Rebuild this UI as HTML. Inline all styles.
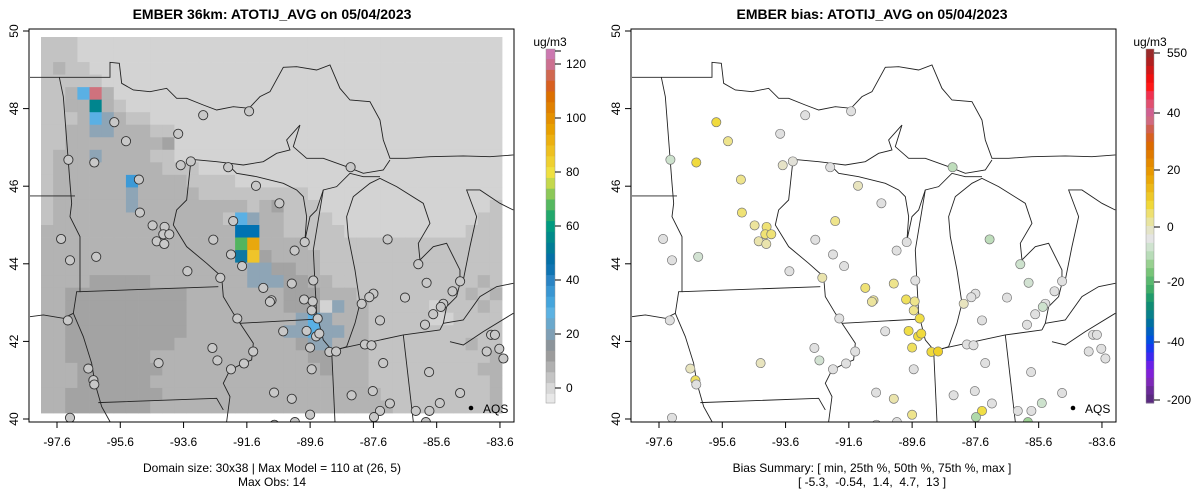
<!DOCTYPE html>
<html><head><meta charset="utf-8">
<style>
html,body{margin:0;padding:0;background:#fff;}
svg{display:block;font-family:"Liberation Sans",sans-serif;}
</style></head>
<body>
<svg id="chart" width="1200" height="502" viewBox="0 0 1200 502" xmlns="http://www.w3.org/2000/svg">
<defs>
<clipPath id="clipL"><rect x="29" y="29" width="485" height="393"/></clipPath>
<clipPath id="clipR"><rect x="631" y="29" width="485" height="393"/></clipPath>
<g id="mapLines" fill="none" stroke="#222" stroke-width="0.9">
<path vector-effect="non-scaling-stroke" d="M0,142 L88,142 L240,142 L240,97 L268,100 L275,160 L310,180 L360,185 L410,175 L440,205 L470,205 L520,225 L560,240 L610,230 L657,235 L690,200 L720,185 L760,112 L800,110 L860,120 L900,105 L930,175 L960,210 L1020,215 L1050,270 L1060,330 L1080,385 L1130,385 L1200,380 L1300,378 L1380,380 L1450,375"/>
<path vector-effect="non-scaling-stroke" d="M483,388 L560,395 L600,400 L640,405 L700,395 L740,370 L780,360 L770,330 L810,285 L790,350 L830,385 L880,385 L950,410 L1000,430 L1060,420 L1080,390"/>
<path vector-effect="non-scaling-stroke" d="M88,142 L100,200 L110,330 L120,460 L125,520 L120,560 L150,620 L150,785 L140,785 L130,850 L160,920 L185,1000 L195,1060 L215,1130 L240,1175"/>
<path vector-effect="non-scaling-stroke" d="M0,498 L135,498"/>
<path vector-effect="non-scaling-stroke" d="M0,860 L40,855 L100,865 L130,850"/>
<path vector-effect="non-scaling-stroke" d="M150,785 L565,770"/>
<path vector-effect="non-scaling-stroke" d="M205,1118 L560,1105 L580,1140"/>
<path vector-effect="non-scaling-stroke" d="M483,390 L470,510 L440,540 L430,585 L470,650 L530,700 L575,740 L580,800 L610,850 L630,880 L670,940 L665,990 L640,1000 L600,1020 L580,1060 L600,1100 L590,1175"/>
<path vector-effect="non-scaling-stroke" d="M630,880 L850,868"/>
<path vector-effect="non-scaling-stroke" d="M595,405 L620,430 L680,440 L760,460 L800,480 L820,500 L830,560 L825,630"/>
<path vector-effect="non-scaling-stroke" d="M825,630 L840,560 L860,540 L880,480 L920,470 L960,430 L1000,440 L1050,440"/>
<path vector-effect="non-scaling-stroke" d="M880,480 L870,540 L860,600 L850,660 L855,760 L860,850 L880,930 L905,960 L920,960 L950,950 L975,880 L990,820 L975,720 L955,620 L950,560 L970,500 L1020,460 L1050,445 L1100,470 L1180,520 L1200,580 L1165,640 L1170,690 L1210,650 L1250,640 L1290,720 L1290,760 L1280,800 L1250,830 L1240,880 L1230,900"/>
<path vector-effect="non-scaling-stroke" d="M1300,750 L1320,650 L1340,560 L1310,480 L1350,480 L1410,520 L1450,540"/>
<path vector-effect="non-scaling-stroke" d="M1240,880 L1300,870 L1350,800 L1400,770 L1450,760"/>
<path vector-effect="non-scaling-stroke" d="M1260,935 L1300,945 L1360,905 L1450,850"/>
<path vector-effect="non-scaling-stroke" d="M905,960 L915,1175"/>
<path vector-effect="non-scaling-stroke" d="M920,958 L1120,915 L1230,900"/>
<path vector-effect="non-scaling-stroke" d="M1120,915 L1150,1175"/>
</g>
</defs>

<g id="leftPanel">
  <text x="272" y="19" text-anchor="middle" font-weight="bold" font-size="14">EMBER 36km: ATOTIJ_AVG on 05/04/2023</text>
  <g id="gridL" clip-path="url(#clipL)"></g>
  <g clip-path="url(#clipL)"><use href="#mapLines" transform="translate(30,30) scale(0.3333)"/></g>
  <g id="stL" clip-path="url(#clipL)"></g>
  <rect x="29" y="29" width="485" height="393" fill="none" stroke="#000" stroke-width="1"/>
  <g id="axL" font-size="12"></g>
  <circle cx="471" cy="408" r="2.3" fill="#000"/>
  <text x="483" y="413" font-size="12">AQS</text>
  <text x="272" y="472" text-anchor="middle" font-size="12">Domain size: 30x38 | Max Model = 110 at (26, 5)</text>
  <text x="272" y="486" text-anchor="middle" font-size="12">Max Obs: 14</text>
  <g id="cbL"></g>
  <text x="550" y="46" text-anchor="middle" font-size="12">ug/m3</text>
</g>

<g id="rightPanel">
  <text x="872" y="19" text-anchor="middle" font-weight="bold" font-size="14">EMBER bias: ATOTIJ_AVG on 05/04/2023</text>
  <g clip-path="url(#clipR)"><use href="#mapLines" transform="translate(632,30) scale(0.3333)"/></g>
  <g id="stR" clip-path="url(#clipR)"></g>
  <rect x="631" y="29" width="485" height="393" fill="none" stroke="#000" stroke-width="1"/>
  <g id="axR" font-size="12"></g>
  <circle cx="1073" cy="408" r="2.3" fill="#000"/>
  <text x="1085" y="413" font-size="12">AQS</text>
  <text x="872" y="472" text-anchor="middle" font-size="12">Bias Summary: [ min, 25th %, 50th %, 75th %, max ]</text>
  <text x="872" y="486" text-anchor="middle" font-size="12" xml:space="preserve">[ -5.3,  -0.54,  1.4,  4.7,  13 ]</text>
  <g id="cbR"></g>
  <text x="1150" y="46" text-anchor="middle" font-size="12">ug/m3</text>
</g>
</svg>
<script>
// ---- data ----
const xTickLabels = [-97.6, -95.6, -93.6, -91.6, -89.6, -87.6, -85.6, -83.6];
const yTickLabels = [40, 42, 44, 46, 48, 50];
const gridRows = [
"11100000000000000000000000000000000000",
"11100000000000000000000000000000000000",
"12110000000000000000000000000000000000",
"11111000000000000000000000000000000000",
"112bp200000000000000000000000000000000",
"1122t210000000000000000000000000000000",
"1112bg21100000000000000000000000000000",
"1122gg22211000000000000000000000000000",
"11222222223000000000000000000000000000",
"1222g222211000000000000000000000000000",
"12222222221110000000000000000000000000",
"1222222c222211110000000000000000000000",
"1222222g222221111111110000000000000000",
"1222222g222222222123111000000000000001",
"1222222222222221bg22111100000000000011",
"2222222222222222BB22111110000000000111",
"2222222222222222Go22221111111111111111",
"2222222222222222ky32222111111111111111",
"22222222222222222gg3322111111111111111",
"22223333322222222ggg332211111111111121",
"22333333333322222222333222111111111212",
"223333333333222222223330g2211111011121",
"223333333333222222222gbg22211111001111",
"22333333333322222222ggbgg2211111111111",
"2233333333322222222223gg22211111111211",
"22333333322222222222223322211111111112",
"22233333332222222222222322211111111122",
"22233333322222222222222222211111111112",
"22333333332222222222222222221111111112",
"22333333322222222222222222222111111112"
];
const lon = [-92.98,-91.53,-95.79,-95.42,-93.77,-97.24,-96.42,-93.37,-93.69,-92.19,-88.32,-95.01,-91.31,-90.57,-94.98,-94.58,-94.20,-94.24,-94.05,-94.45,-94.21,-97.47,-92.66,-92.03,-97.19,-96.36,-92.10,-91.75,-89.77,-90.09,-87.15,-86.18,-93.48,-92.44,-91.08,-90.18,-89.50,-85.92,-84.86,-85.10,-87.60,-87.73,-87.97,-86.60,-90.82,-90.87,-89.79,-89.52,-89.55,-85.39,-85.47,-85.71,-85.97,-87.39,-97.26,-91.90,-90.45,-89.71,-89.36,-89.41,-89.31,-89.60,-88.99,-88.78,-87.87,-87.66,-87.29,-85.84,-84.02,-83.88,-83.76,-83.62,-83.49,-92.69,-91.40,-94.39,-92.53,-91.69,-92.10,-96.61,-96.45,-96.42,-89.55,-90.74,-90.18,-88.29,-87.62,-87.08,-87.39,-87.58,-86.26,-85.83,-85.50,-84.86,-89.60,-97.19,-90.08,-85.94,-90.73];
const lat = [47.83,47.93,47.65,47.16,47.35,46.68,46.61,46.64,46.54,46.49,46.49,46.17,46.01,45.56,45.32,44.99,44.95,44.76,44.76,44.58,44.51,44.64,44.62,45.10,44.09,44.18,44.24,43.94,44.56,44.34,44.63,43.99,43.81,43.64,43.38,43.49,43.57,43.51,43.55,43.29,43.23,43.14,42.97,43.13,43.06,43.02,43.08,43.03,42.80,42.97,42.89,42.70,42.43,42.54,42.54,42.59,42.26,42.27,42.59,42.13,42.20,41.84,41.73,41.74,41.92,41.90,41.44,41.21,41.74,42.17,42.17,41.81,41.56,41.83,41.74,41.44,41.51,41.43,41.28,41.30,41.00,40.89,41.28,40.68,40.52,40.61,40.72,40.40,40.21,40.05,40.21,40.21,40.41,40.67,40.11,40.03,39.92,39.92,39.85];
const bias = [0,0,9,5,0,-2,9,0.5,1.5,0,-3,5,2,0,6,4,6,6,6,3,3,0,0,5,0,-1.5,0,0,0,0,-3,-2,0,3,6,5,0,-1.5,0,0,0,0,2,0,4,4,7,5,5,0,-2,0,0,0,0,0,0,8,8,9,9,7,9,11,0,0,0,0,0,0,0,0,0,0,0,2,-1.5,0,0,2,7,0,0,0,3,0,0,0,8,-4,0,0,-2,0,5,0,0,-5,0];
const cbLeftTicks = [0, 20, 40, 60, 80, 100, 120];
const cbRightTickLabels = ["550","40","20","0","-20","-40","-200"];

// ---- scales ----
const NS = "http://www.w3.org/2000/svg";
const xL = v => 57 + (v + 97.6) * 31.64;
const yM = v => 31 + (50 - v) * 38.8;
const cbLy = v => 388 - v * 2.7;
const cbRy = i => [53,113,170,227,282,342,400][i];
function mk(tag, attrs, parent){ const e=document.createElementNS(NS,tag); for(const k in attrs) e.setAttribute(k,attrs[k]); parent.appendChild(e); return e; }

const shade = {"0":"#d3d3d3","1":"#c3c3c3","2":"#b3b3b3","3":"#a3a3a3","b":"#5ab0e4","p":"#cf727d","t":"#00858e","g":"#8ea5b6","c":"#3d9ad7","B":"#0072b2","G":"#52b45f","o":"#e8a80e","y":"#efc42a","k":"#0e78a2"};
const gridL = document.getElementById("gridL");
const cw = (502-41)/38, ch = (413-37)/30;
gridRows.forEach((row, j) => {
  for (let i = 0; i < 38; i++) {
    const c = row[i] || "1";
    const r = mk("rect",{x:(41+i*cw).toFixed(2), y:(37+j*ch).toFixed(2), width:(cw+0.4).toFixed(2), height:(ch+0.4).toFixed(2), fill:shade[c]}, gridL);
    
    
  }
});

// bias colour
const stops = [[-20,[16,144,112]],[-10,[108,192,108]],[-5,[160,212,152]],[-2,[205,226,205]],[0,[224,224,224]],[2,[232,228,190]],[5,[238,228,140]],[8,[240,222,70]],[12,[240,204,32]],[20,[232,156,0]]];
function biasColor(v){
  if (v<=stops[0][0]) return "rgb("+stops[0][1]+")";
  for (let i=1;i<stops.length;i++){ if (v<=stops[i][0]){ const a=stops[i-1], b=stops[i]; const t=(v-a[0])/(b[0]-a[0]); return "rgb("+a[1].map((c,k)=>Math.round(c+(b[1][k]-c)*t)).join(",")+")"; } }
  return "rgb("+stops[stops.length-1][1]+")";
}

const stL = document.getElementById("stL"), stR = document.getElementById("stR");
lon.forEach((lo, i) => {
  const a = mk("circle",{cx:xL(lo).toFixed(1), cy:yM(lat[i]).toFixed(1), r:4.6, fill:"#c8c8c8", stroke:"#333", "stroke-width":0.9}, stL);
  
  
  const b = mk("circle",{cx:(xL(lo)+602).toFixed(1), cy:yM(lat[i]).toFixed(1), r:4.6, fill:biasColor(bias[i]), stroke:"#777", "stroke-width":0.7}, stR);
  
  
});

// axes
function axes(gid, off){
  const g = document.getElementById(gid);
  xTickLabels.forEach(v => {
    const x = xL(v)+off;
    const l = mk("line",{x1:x,x2:x,y1:422,y2:428,stroke:"#000"}, g);
    
    
    const t = mk("text",{x:x,y:446,"text-anchor":"middle"}, g);
    t.textContent = v.toFixed(1);
    
    
  });
  yTickLabels.forEach(v => {
    const y = yM(v);
    const l = mk("line",{x1:29+off,x2:23+off,y1:y,y2:y,stroke:"#000"}, g);
    
    
    const t = mk("text",{x:18+off,y:y,"text-anchor":"middle",transform:"rotate(-90 "+(18+off)+" "+y+")"}, g);
    t.textContent = v;
    
    
  });
}
axes("axL", 0); axes("axR", 602);

// left colorbar
const cbL = document.getElementById("cbL");
const lstops = [[-6,"#e8e8e8"],[-2,"#d8d8d8"],[2,"#c4c4c4"],[6,"#b0b0b0"],[10,"#9c9c9c"],[14,"#8c949a"],[18,"#7f9fb5"],[22,"#6aa8cc"],[26,"#5cb2e2"],[30,"#45a5dc"],[34,"#3996d2"],[38,"#2a84c4"],[42,"#0f74b2"],[46,"#0470a6"],[50,"#007c96"],[54,"#008a8a"],[58,"#009a80"],[62,"#22a86c"],[66,"#55b860"],[70,"#8cc858"],[74,"#c4d84c"],[78,"#efe040"],[82,"#efd030"],[86,"#eec020"],[90,"#ecb010"],[94,"#e8a000"],[98,"#e49000"],[102,"#e08000"],[106,"#dc7000"],[110,"#d86020"],[114,"#d06850"],[118,"#cc7090"],[122,"#cc78b0"],[126,"#aa2a2a"]];
lstops.forEach((s, i) => {
  const top = Math.max(49, cbLy(s[0]+4)), bot = Math.min(403, cbLy(s[0]));
  const r = mk("rect",{x:546,y:top.toFixed(1),width:9,height:(bot-top+0.5).toFixed(1),fill:s[1]}, cbL);
  
  
});
mk("rect",{x:546,y:49,width:9,height:354,fill:"none",stroke:"#999","stroke-width":0.5}, cbL);
cbLeftTicks.forEach(v => {
  const y = cbLy(v);
  mk("line",{x1:555,x2:561,y1:y,y2:y,stroke:"#000"}, cbL);
  const t = mk("text",{x:566,y:y+4,"font-size":12}, cbL);
  t.textContent = v;
  
  
});
mk("line",{x1:555,x2:561,y1:51,y2:51,stroke:"#000"}, cbL);

// right colorbar
const cbR = document.getElementById("cbR");
const rcols = ["#9a2a2a","#b02020","#d01818","#f01010","#ff1818","#f03050","#e05070","#d06090","#d06a80","#d06050","#d86020","#dc6a00","#e07a00","#e48a00","#e89800","#eaa808","#ecb818","#eec828","#f0d838","#eee070","#e8e4a0","#e4e4c8","#e4e4e4","#cfe3cf","#b8dcb8","#98d090","#78c478","#5ab870","#40ac68","#209c6c","#108c74","#08808a","#0070a0","#0060c0","#0050e0","#1838f0","#3c28f0","#6a20e8","#8020d8","#7e28b8","#6a2a98","#5a2a80"];
const rh = 354 / rcols.length;
rcols.forEach((c, i) => {
  const r = mk("rect",{x:1146,y:(49+i*rh).toFixed(2),width:8,height:(rh+0.5).toFixed(2),fill:c}, cbR);
  
  
});
mk("rect",{x:1146,y:49,width:8,height:354,fill:"none",stroke:"#999","stroke-width":0.5}, cbR);
cbRightTickLabels.forEach((lab, i) => {
  const y = cbRy(i);
  mk("line",{x1:1154,x2:1160,y1:y,y2:y,stroke:"#000"}, cbR);
  const t = mk("text",{x:1167,y:y+4,"font-size":12}, cbR);
  t.textContent = lab;
  
  
});
</script>
</body></html>
